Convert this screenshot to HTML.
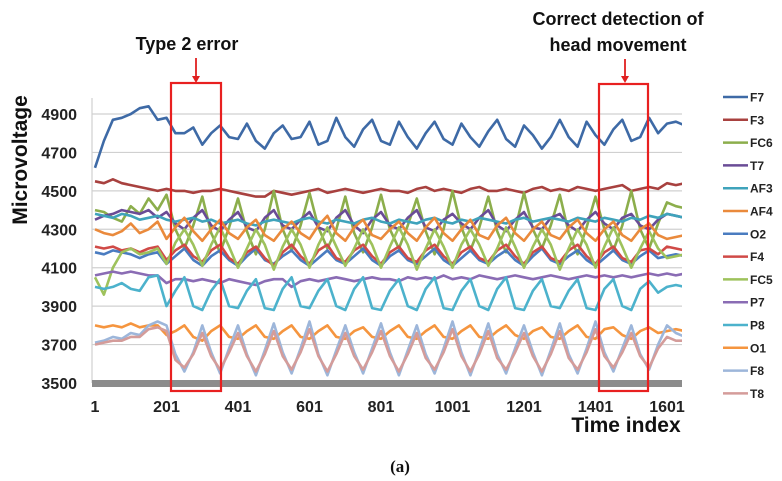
<!DOCTYPE html>
<html><head><meta charset="utf-8"><style>
body{margin:0;background:#fff;}
svg{display:block;font-family:"Liberation Sans",sans-serif;}
</style></head><body>
<svg id="chart" width="782" height="481"></svg>
<script>
const seriesNames=["F7","F3","FC6","T7","AF3","AF4","O2","F4","FC5","P7","P8","O1","F8","T8"];
const yTicks=[4900,4700,4500,4300,4100,3900,3700,3500];
const xTickLabels=["1","201","401","601","801","1001","1201","1401","1601"];
const xTickValues=[1,201,401,601,801,1001,1201,1401,1601];
const F7=[4620,4760,4870,4880,4900,4930,4940,4870,4880,4800,4800,4830,4740,4800,4840,4780,4770,4850,4760,4720,4800,4840,4770,4780,4860,4740,4760,4880,4780,4730,4820,4870,4760,4740,4860,4780,4720,4800,4860,4770,4740,4850,4780,4730,4810,4870,4770,4730,4840,4790,4720,4780,4870,4780,4730,4860,4790,4740,4820,4870,4760,4780,4880,4800,4850,4860,4840];
const F3=[4550,4540,4560,4540,4530,4520,4510,4500,4510,4500,4500,4490,4500,4500,4510,4500,4490,4480,4470,4470,4500,4490,4480,4490,4500,4510,4490,4500,4510,4500,4490,4500,4510,4500,4500,4490,4510,4520,4500,4510,4500,4490,4510,4520,4500,4500,4510,4500,4490,4510,4520,4500,4510,4500,4520,4510,4500,4510,4520,4530,4500,4510,4520,4510,4540,4530,4540];
const FC6=[4400,4390,4360,4340,4420,4380,4460,4400,4480,4300,4200,4320,4470,4280,4180,4310,4460,4290,4170,4300,4500,4300,4190,4320,4490,4310,4200,4300,4470,4280,4180,4310,4480,4300,4200,4320,4460,4290,4170,4300,4500,4310,4190,4310,4470,4290,4180,4300,4490,4300,4200,4320,4480,4280,4170,4310,4470,4300,4190,4320,4500,4300,4200,4330,4440,4420,4410];
const T7=[4350,4370,4380,4400,4390,4380,4400,4360,4390,4330,4300,4360,4400,4320,4290,4350,4390,4310,4290,4360,4400,4320,4300,4350,4390,4310,4290,4360,4400,4320,4280,4350,4390,4320,4300,4360,4400,4310,4290,4350,4380,4330,4300,4360,4400,4320,4290,4350,4390,4310,4300,4360,4380,4320,4290,4350,4390,4330,4300,4360,4380,4320,4300,4350,4380,4370,4360];
const AF3=[4380,4370,4360,4380,4370,4350,4360,4370,4350,4340,4350,4360,4340,4350,4330,4340,4350,4330,4320,4340,4350,4340,4330,4350,4360,4340,4330,4350,4340,4330,4350,4360,4340,4330,4350,4340,4330,4350,4360,4340,4330,4350,4340,4360,4350,4340,4330,4350,4360,4340,4350,4360,4350,4340,4360,4350,4340,4360,4350,4340,4360,4350,4370,4360,4380,4370,4360];
const AF4=[4300,4280,4270,4290,4330,4280,4300,4340,4250,4310,4360,4290,4240,4300,4350,4280,4250,4310,4350,4270,4240,4300,4340,4280,4250,4320,4370,4280,4240,4310,4350,4270,4250,4300,4340,4280,4240,4310,4360,4280,4240,4300,4350,4270,4250,4320,4360,4280,4240,4300,4340,4270,4250,4310,4350,4280,4240,4300,4340,4270,4240,4300,4330,4270,4250,4260,4270];
const O2=[4180,4170,4190,4180,4170,4150,4170,4180,4120,4160,4200,4140,4110,4160,4190,4140,4110,4160,4200,4140,4120,4160,4190,4140,4110,4150,4190,4140,4120,4160,4200,4140,4110,4160,4190,4140,4120,4160,4200,4140,4110,4150,4190,4140,4120,4160,4190,4140,4110,4160,4200,4140,4120,4160,4190,4140,4110,4150,4190,4140,4120,4160,4190,4150,4160,4170,4160];
const F4=[4210,4200,4210,4190,4200,4180,4200,4210,4140,4190,4220,4160,4130,4190,4220,4150,4120,4180,4210,4150,4110,4180,4220,4160,4120,4190,4220,4150,4130,4190,4220,4160,4120,4180,4210,4150,4130,4190,4220,4160,4120,4180,4210,4150,4130,4190,4220,4160,4120,4180,4210,4150,4130,4190,4220,4160,4120,4180,4210,4150,4130,4190,4200,4170,4210,4200,4190];
const FC5=[4050,3960,4100,4180,4200,4170,4180,4200,4120,4230,4300,4220,4110,4220,4310,4210,4100,4200,4300,4220,4090,4210,4300,4220,4100,4220,4310,4210,4110,4200,4300,4220,4100,4210,4310,4220,4090,4200,4300,4210,4100,4220,4300,4220,4110,4200,4310,4210,4100,4210,4300,4220,4090,4200,4300,4220,4100,4210,4310,4210,4100,4200,4290,4200,4150,4160,4170];
const P7=[4060,4070,4080,4070,4080,4070,4060,4060,4020,4040,4040,4030,4040,4030,4020,4040,4030,4020,4010,4030,4040,4040,4000,4030,4040,4030,4040,4050,4040,4030,4040,4050,4040,4040,4030,4050,4040,4050,4040,4060,4040,4050,4040,4060,4050,4040,4050,4060,4050,4040,4050,4060,4050,4040,4050,4060,4050,4060,4050,4060,4050,4060,4070,4060,4070,4060,4070];
const P8=[4000,3990,4000,4020,3990,3980,4050,4060,3900,3980,4050,3900,3880,3980,4040,3900,3890,3980,4040,3890,3880,3990,4050,3900,3890,3980,4040,3900,3880,3990,4050,3890,3880,3980,4040,3900,3880,3990,4050,3890,3880,3980,4040,3900,3880,3990,4050,3890,3880,3980,4040,3900,3890,3980,4040,3890,3880,3990,4040,3900,3880,3990,4030,3970,4000,4010,4000];
const O1=[3800,3790,3800,3790,3810,3790,3800,3800,3750,3770,3800,3740,3720,3770,3800,3740,3730,3770,3800,3740,3730,3770,3800,3740,3730,3770,3800,3740,3730,3770,3790,3740,3730,3770,3800,3740,3730,3770,3800,3740,3730,3770,3800,3740,3730,3770,3800,3750,3730,3770,3790,3740,3730,3770,3800,3740,3730,3780,3790,3750,3730,3770,3790,3760,3770,3780,3770];
const F8=[3710,3720,3740,3730,3760,3750,3800,3820,3800,3650,3560,3660,3800,3660,3550,3680,3800,3650,3540,3670,3810,3660,3550,3680,3820,3650,3540,3670,3800,3660,3550,3680,3810,3660,3540,3670,3800,3650,3550,3680,3820,3660,3540,3670,3810,3650,3550,3680,3800,3660,3540,3670,3810,3650,3550,3680,3820,3660,3560,3680,3800,3650,3570,3700,3800,3760,3740];
const T8=[3700,3710,3720,3720,3740,3740,3780,3790,3770,3620,3580,3650,3760,3640,3570,3660,3760,3640,3560,3650,3770,3640,3570,3660,3780,3640,3560,3650,3760,3640,3570,3660,3770,3640,3560,3650,3760,3630,3570,3660,3780,3640,3560,3650,3770,3630,3570,3660,3760,3640,3560,3650,3770,3630,3570,3660,3780,3640,3580,3660,3760,3640,3580,3680,3740,3720,3720];
const seriesData=[F7,F3,FC6,T7,AF3,AF4,O2,F4,FC5,P7,P8,O1,F8,T8];
const colors=["#3e6aa6","#a8413f","#8cae4c","#6a4c96","#3fa3bb","#ea8a3c","#4a7cc0","#d04a47","#9ec25c","#8a6cb4","#4cb2cc","#f5953f","#9db6da","#d49c9a"];
const STEP=25;

const NS="http://www.w3.org/2000/svg";
const svg=document.getElementById('chart');
function mk(tag,attrs,parent){const e=document.createElementNS(NS,tag);for(const k in attrs)e.setAttribute(k,attrs[k]);(parent||svg).appendChild(e);return e;}
const X0=95,XS=0.3575,YTOP=114,YBOT=383;
function xp(i){return X0+(i-1)*XS;}
function yp(v){return YTOP+(4900-v)*(YBOT-YTOP)/1400;}
const defs=mk('defs',{});
const cp=mk('clipPath',{id:'clip'},defs);
mk('rect',{x:90,y:60,width:592,height:330},cp);

yTicks.forEach(t=>{
  if(t>3500){const g=mk('line',{x1:92,x2:682,y1:yp(t),y2:yp(t),stroke:'#d0d0d0','stroke-width':1.2});
  
  }
  const tx=mk('text',{x:77,y:yp(t)+6,'text-anchor':'end','font-size':16,'font-weight':'bold',fill:'#222'});
  tx.textContent=t;
  
  
});
mk('line',{x1:92,x2:92,y1:98,y2:383,stroke:'#d0d0d0','stroke-width':1.2});
const base=mk('rect',{x:92,y:380,width:590,height:7,fill:'#8c8c8c'});



xTickValues.forEach((v,j)=>{
  const tx=mk('text',{x:xp(v),y:412,'text-anchor':'middle','font-size':16,'font-weight':'bold',fill:'#222'});
  tx.textContent=xTickLabels[j];
  
  
});

const plot=mk('g',{'clip-path':'url(#clip)'});
seriesData.forEach((arr,s)=>{
  const pts=arr.map((v,k)=>xp(1+k*STEP).toFixed(1)+','+yp(v).toFixed(1)).join(' ');
  const pl=mk('polyline',{points:pts,fill:'none',stroke:colors[s],'stroke-width':2.6,'stroke-linejoin':'round'},plot);
  
  
  const ly=97+s*22.8;
  const ll=mk('line',{x1:723,x2:748,y1:ly,y2:ly,stroke:colors[s],'stroke-width':2.5});
  
  
  const lt=mk('text',{x:750,y:ly+4.5,'font-size':12,'font-weight':'bold',fill:'#222'});
  lt.textContent=seriesNames[s];
  
  
});
</script>
<svg width="782" height="481" style="position:absolute;left:0;top:0;font-family:'Liberation Sans',sans-serif">
  <text x="27" y="160" transform="rotate(-90 27 160)" text-anchor="middle" font-size="21" font-weight="bold" fill="#111">Microvoltage</text>
  <text x="626" y="432" text-anchor="middle" font-size="21" font-weight="bold" fill="#111">Time index</text>
  <text x="400" y="472" text-anchor="middle" font-size="17" font-weight="bold" font-family="Liberation Serif,serif" fill="#111">(a)</text>
  <text x="187" y="50" text-anchor="middle" font-size="18" font-weight="bold" fill="#111">Type 2 error</text>
  <line x1="196" y1="58" x2="196" y2="78" stroke="#e02020" stroke-width="1.8"/>
  <polygon points="192,76 200,76 196,83" fill="#e02020"/>
  <rect x="171" y="83" width="50" height="308" fill="none" stroke="#e82020" stroke-width="2.2"/>
  <text x="618" y="25" text-anchor="middle" font-size="18" font-weight="bold" fill="#111">Correct detection of</text>
  <text x="618" y="51" text-anchor="middle" font-size="18" font-weight="bold" fill="#111">head movement</text>
  <line x1="625" y1="59" x2="625" y2="78" stroke="#e02020" stroke-width="1.8"/>
  <polygon points="621,76 629,76 625,83" fill="#e02020"/>
  <rect x="599" y="84" width="49" height="307" fill="none" stroke="#e82020" stroke-width="2.2"/>
</svg>
</body></html>
